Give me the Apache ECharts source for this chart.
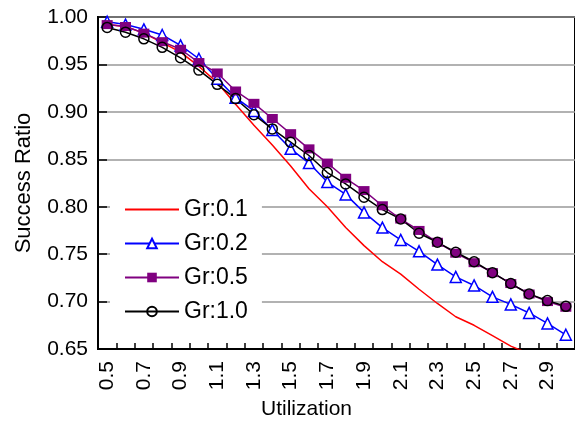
<!DOCTYPE html>
<html>
<head>
<meta charset="utf-8">
<script src="https://cdn.jsdelivr.net/npm/echarts@6/dist/echarts.min.js"></script>
<style>
html,body{margin:0;padding:0;background:#fff;}
#chart{width:575px;height:425px;}
</style>
</head>
<body>
<div id="chart"></div>
<script>
var categories = ['0.5','0.6','0.7','0.8','0.9','1.0','1.1','1.2','1.3','1.4','1.5','1.6','1.7','1.8','1.9','2.0','2.1','2.2','2.3','2.4','2.5','2.6','2.7','2.8','2.9','3.0'];
var seriesNames = ['Gr:0.1','Gr:0.2','Gr:0.5','Gr:1.0'];
var gr01 = [0.992,0.990,0.983,0.973,0.963,0.948,0.931,0.908,0.886,0.865,0.843,0.819,0.800,0.778,0.759,0.742,0.729,0.713,0.698,0.684,0.675,0.664,0.653,0.645,null,null];
var gr02 = [0.995,0.992,0.987,0.981,0.970,0.956,0.935,0.915,0.901,0.881,0.861,0.846,0.826,0.813,0.794,0.778,0.765,0.753,0.739,0.726,0.717,0.705,0.697,0.688,0.677,0.665];
var gr05 = [0.992,0.990,0.983,0.974,0.966,0.952,0.941,0.922,0.909,0.893,0.877,0.861,0.846,0.830,0.817,0.801,0.787,0.775,0.7625,0.751,0.741,0.7305,0.719,0.708,0.700,0.694];
var gr10 = [0.989,0.984,0.977,0.968,0.957,0.944,0.929,0.914,0.897,0.882,0.868,0.854,0.836,0.824,0.810,0.797,0.787,0.772,0.7625,0.752,0.742,0.7305,0.719,0.708,0.701,0.695];
var yTicks = {min: 0.65, max: 1.0, interval: 0.05};

var FONT = '"Liberation Sans", Arial, sans-serif';
var chart = echarts.init(document.getElementById('chart'), null, {renderer: 'canvas'});
chart.setOption({
  animation: false,
  backgroundColor: '#fff',
  textStyle: {fontFamily: FONT, color: '#000'},
  grid: {left: 98, top: 17, bottom: 72, right: -8.3, show: true, borderColor: '#000', borderWidth: 2, backgroundColor: 'transparent'},
  legend: {
    orient: 'vertical', left: 110, top: 183,
    padding: [15, 14, 15, 14],
    backgroundColor: '#fff',
    itemWidth: 54, itemHeight: 12, itemGap: 11,
    selectedMode: false,
    textStyle: {fontFamily: FONT, fontSize: 23, color: '#000'},
    data: [
      {name: seriesNames[0], itemStyle: {opacity: 0}},
      {name: seriesNames[1]},
      {name: seriesNames[2]},
      {name: seriesNames[3]}
    ]
  },
  xAxis: {
    type: 'category', data: categories, boundaryGap: true,
    name: 'Utilization', nameLocation: 'middle', nameGap: 50,
    nameTextStyle: {fontFamily: FONT, fontSize: 21, color: '#000', padding: [0, 60, 0, 0]},
    axisLine: {lineStyle: {color: '#000', width: 2}},
    axisTick: {show: true, inside: true, length: 6, interval: 0, alignWithLabel: false, lineStyle: {color: '#000', width: 1.5}},
    axisLabel: {interval: 1, rotate: 90, fontSize: 21, margin: 12, color: '#000', fontFamily: FONT},
    splitLine: {show: false}
  },
  yAxis: {
    type: 'value', min: yTicks.min, max: yTicks.max, interval: yTicks.interval,
    name: 'Success Ratio', nameLocation: 'middle', nameGap: 63,
    nameTextStyle: {fontFamily: FONT, fontSize: 22, color: '#000'},
    axisLine: {show: true, lineStyle: {color: '#000', width: 2}},
    axisTick: {show: true, inside: true, length: 9, lineStyle: {color: '#000', width: 1.5}},
    axisLabel: {fontSize: 21, margin: 10, color: '#000', fontFamily: FONT, formatter: function (v) { return v.toFixed(2); }},
    splitLine: {show: true, lineStyle: {color: '#999', width: 1.5}}
  },
  series: [
    {name: seriesNames[0], type: 'line', data: gr01, showSymbol: false, symbol: 'none', connectNulls: false,
     lineStyle: {color: '#ff0000', width: 1.5}, itemStyle: {color: '#ff0000'}},
    {name: seriesNames[1], type: 'line', data: gr02, symbol: 'triangle', symbolSize: 11,
     lineStyle: {color: '#0000ff', width: 1.5}, itemStyle: {color: '#ffffff', borderColor: '#0000ff', borderWidth: 1.5}},
    {name: seriesNames[2], type: 'line', data: gr05, symbol: 'rect', symbolSize: [11, 9],
     lineStyle: {color: '#800080', width: 1.5}, itemStyle: {color: '#800080', borderColor: '#800080', borderWidth: 0}},
    {name: seriesNames[3], type: 'line', data: gr10, symbol: 'circle', symbolSize: 10,
     lineStyle: {color: '#000000', width: 1.5}, itemStyle: {color: 'rgba(255,255,255,0)', borderColor: '#000000', borderWidth: 1.5}}
  ]
});
</script>
</body>
</html>
